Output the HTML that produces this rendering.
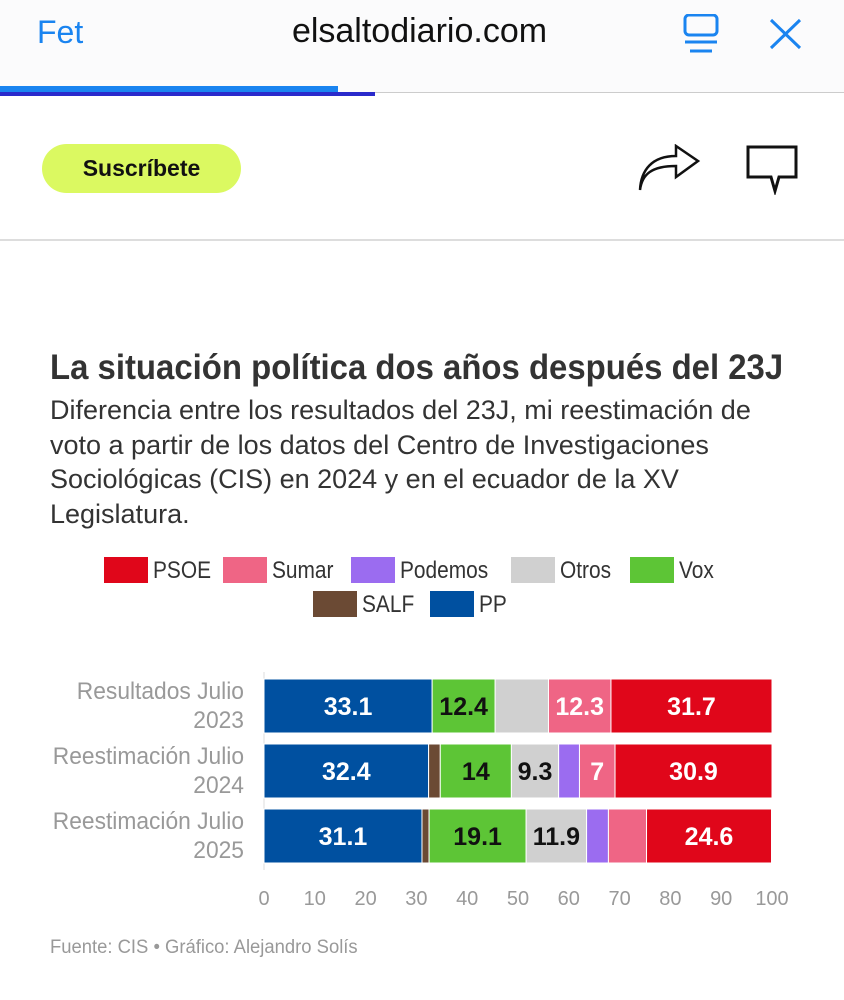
<!DOCTYPE html>
<html><head><meta charset="utf-8">
<style>
body{margin:0;width:844px;height:1000px;background:#fff;position:relative;overflow:hidden;font-family:"Liberation Sans",sans-serif;}
.abs{position:absolute;}
.leg{position:absolute;font-size:24px;color:#333;height:28px;line-height:28px;white-space:nowrap;}
.sw{display:inline-block;width:44px;height:26px;vertical-align:top;margin-right:5px;}
.lt{display:inline-block;transform:scaleX(.87);transform-origin:left center;}
.sub div{white-space:nowrap;}
</style></head><body>
<div class="abs" style="left:0;top:0;width:844px;height:92px;background:#fbfbfc;"></div>
<div class="abs" style="left:37px;top:14px;font-size:32px;color:#1a84f0;">Fet</div>
<div class="abs" style="left:0;width:844px;text-align:center;top:12px;font-size:34px;color:#111;"><span style="margin-left:-5px">elsaltodiario.com</span></div>
<svg class="abs" style="left:682px;top:14px" width="40" height="40"><rect x="3" y="1" width="32" height="20" rx="4" fill="none" stroke="#1a84f0" stroke-width="3"/><line x1="3" y1="28" x2="35" y2="28" stroke="#1a84f0" stroke-width="3"/><line x1="8" y1="37" x2="30" y2="37" stroke="#1a84f0" stroke-width="3"/></svg>
<svg class="abs" style="left:768px;top:17px" width="36" height="34"><path d="M3 3L32 31M32 3L3 31" stroke="#1a84f0" stroke-width="3"/></svg>
<div class="abs" style="left:0;top:92px;width:844px;height:1px;background:#ccc"></div>
<div class="abs" style="left:0;top:86px;width:338px;height:6px;background:#1a84f0"></div>
<div class="abs" style="left:0;top:92px;width:375px;height:4px;background:#2a2acb"></div>
<div class="abs" style="left:42px;top:144px;width:199px;height:49px;border-radius:25px;background:#dbf961;text-align:center;line-height:49px;font-size:23px;font-weight:bold;color:#111;">Suscríbete</div>
<svg class="abs" style="left:636px;top:144px" width="70" height="50"><path d="M4 46C6 30 16 22 40 22V33L62 17 40 2V12C16 12 5 26 4 46Z" fill="none" stroke="#111" stroke-width="2.5"/></svg>
<svg class="abs" style="left:746px;top:145px" width="52" height="50"><path d="M2 2H50V32H33L29 46 25 32H2Z" fill="none" stroke="#111" stroke-width="3"/></svg>
<div class="abs" style="left:0;top:239px;width:844px;height:2px;background:#ddd"></div>

<div class="abs" style="left:50px;top:348px;font-size:35px;font-weight:bold;color:#333;white-space:nowrap;transform:scaleX(.94);transform-origin:left;">La situación política dos años después del 23J</div>
<div class="abs sub" style="left:50px;top:393px;font-size:27px;line-height:34.5px;color:#333;">
<div>Diferencia entre los resultados del 23J, mi reestimación de</div>
<div>voto a partir de los datos del Centro de Investigaciones</div>
<div>Sociológicas (CIS) en 2024 y en el ecuador de la XV</div>
<div>Legislatura.</div></div>

<div class="leg" style="left:104px;top:557px"><span class="sw" style="background:#e0061a"></span><span class="lt">PSOE</span></div>
<div class="leg" style="left:223px;top:557px"><span class="sw" style="background:#ef6585"></span><span class="lt">Sumar</span></div>
<div class="leg" style="left:351px;top:557px"><span class="sw" style="background:#9b6cf0"></span><span class="lt">Podemos</span></div>
<div class="leg" style="left:511px;top:557px"><span class="sw" style="background:#d0d0d0"></span><span class="lt">Otros</span></div>
<div class="leg" style="left:630px;top:557px"><span class="sw" style="background:#5dc536"></span><span class="lt">Vox</span></div>
<div class="leg" style="left:313px;top:591px"><span class="sw" style="background:#6b4a34"></span><span class="lt">SALF</span></div>
<div class="leg" style="left:430px;top:591px"><span class="sw" style="background:#0050a0"></span><span class="lt">PP</span></div>

<svg id="chart" class="abs" style="left:0;top:0" width="844" height="1000"></svg>

<div class="abs" style="left:50px;top:937px;font-size:19px;color:#999;transform:scaleX(.97);transform-origin:left;">Fuente: CIS • Gráfico: Alejandro Solís</div>

<script>
const categories=[["Resultados Julio","2023"],["Reestimación Julio","2024"],["Reestimación Julio","2025"]];
const seriesNames=["PP","SALF","Vox","Otros","Podemos","Sumar","PSOE"];
const seriesColors=["#0050a0","#6b4a34","#5dc536","#d0d0d0","#9b6cf0","#ef6585","#e0061a"];
const labelColors=["#fff","#fff","#111","#111","#fff","#fff","#fff"];
const ppValues=[33.1,32.4,31.1];
const salfValues=[0,2.3,1.4];
const voxValues=[12.4,14,19.1];
const otrosValues=[10.5,9.3,11.9];
const podemosValues=[0,4.1,4.3];
const sumarValues=[12.3,7,7.5];
const psoeValues=[31.7,30.9,24.6];
const shownLabels=[["33.1","","12.4","","","12.3","31.7"],["32.4","","14","9.3","","7","30.9"],["31.1","","19.1","11.9","","","24.6"]];
const ticks=[0,10,20,30,40,50,60,70,80,90,100];
const series=[ppValues,salfValues,voxValues,otrosValues,podemosValues,sumarValues,psoeValues];
const svg=document.getElementById('chart');const NS="http://www.w3.org/2000/svg";
const x0=264,x1=772;const xs=v=>x0+(x1-x0)*v/100;
const ys=i=>679+i*65;const bh=54;
const FF='Liberation Sans, sans-serif';
function mk(t,a){const e=document.createElementNS(NS,t);for(const k in a)e.setAttribute(k,a[k]);svg.appendChild(e);return e;}
const ax=mk('line',{x1:x0,x2:x0,y1:672,y2:870,stroke:'#ddd'});


ticks.forEach(t=>{const tl=mk('text',{x:xs(t),y:905,'text-anchor':'middle','font-size':20,fill:'#999','font-family':FF});tl.textContent=t;

});
categories.forEach((c,i)=>{
  const y=ys(i);
  c.forEach((ln,j)=>{const tx=mk('text',{x:244,y:y+20+j*29,'text-anchor':'end','font-size':24,fill:'#999','font-family':FF,transform:'translate(244 0) scale(0.95 1) translate(-244 0)'});tx.textContent=ln;
  
  });
  let acc=0;
  series.forEach((s,k)=>{
    const v=s[i];if(v<=0)return;
    const r=mk('rect',{x:xs(acc),y:y,width:xs(acc+v)-xs(acc),height:bh,fill:seriesColors[k],stroke:'#fff','stroke-width':1});
    
    
    const lab=shownLabels[i][k];
    if(lab){const t=mk('text',{x:(xs(acc)+xs(acc+v))/2,y:y+36,'text-anchor':'middle','font-size':25,'font-weight':'bold',fill:labelColors[k],'font-family':FF});t.textContent=lab;
    
    }
    acc+=v;
  });
});
</script>
</body></html>
